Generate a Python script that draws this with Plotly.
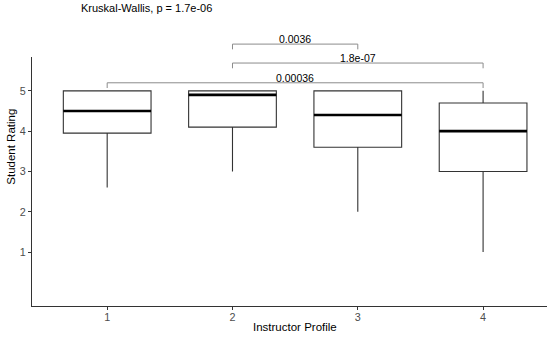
import plotly.graph_objects as go

# ---- data ----
groups = [1, 2, 3, 4]
q1 = [3.95, 4.1, 3.6, 3.0]
median = [4.5, 4.9, 4.4, 4.0]
q3 = [5.0, 5.0, 5.0, 4.7]
lower_whisker = [2.6, 3.0, 2.0, 1.0]
upper_whisker = [5.0, 5.0, 5.0, 5.0]
y_ticks = [1, 2, 3, 4, 5]

comparisons = [(1, 4, "0.00036", 5.2), (2, 4, "1.8e-07", 5.69), (2, 3, "0.0036", 6.16)]
test_label = "Kruskal-Wallis, p = 1.7e-06"

# ---- layout constants ----
Y_RANGE = [-0.34, 5.84]
X_RANGE = [0.4, 4.51]
BOX_W = 0.7
FONT = "Liberation Sans, Arial, sans-serif"
DARK = "#333333"


def ydom(v):
    return (v - Y_RANGE[0]) / (Y_RANGE[1] - Y_RANGE[0])


fig = go.Figure()
for g, a, m, b, lo, hi in zip(groups, q1, median, q3, lower_whisker, upper_whisker):
    fig.add_trace(go.Box(
        x=[g], q1=[a], median=[m], q3=[b], lowerfence=[lo], upperfence=[hi],
        width=BOX_W, whiskerwidth=0, boxpoints=False,
        fillcolor="white", line=dict(color=DARK, width=1.1),
        showlegend=False, hoverinfo="skip",
    ))
    fig.add_trace(go.Scatter(
        x=[g - BOX_W / 2, g + BOX_W / 2], y=[m, m], mode="lines",
        line=dict(color="black", width=2.6), showlegend=False, hoverinfo="skip",
    ))

tick_h = 0.13
for a, b, lab, h in comparisons:
    for x0, x1, y0, y1 in [(a, a, h - tick_h, h), (a, b, h, h), (b, b, h, h - tick_h)]:
        fig.add_shape(type="line", xref="x", yref="paper",
                      x0=x0, x1=x1, y0=ydom(y0), y1=ydom(y1),
                      line=dict(color="#8c8c8c", width=1))
    fig.add_annotation(x=(a + b) / 2, y=ydom(h), xref="x", yref="paper",
                       text=lab, showarrow=False, yanchor="bottom", yshift=-3,
                       font=dict(family=FONT, size=10.5, color="black"))

fig.add_annotation(x=1.31, y=ydom(7.06), xref="x", yref="paper", text=test_label,
                   showarrow=False, yanchor="middle", xanchor="center",
                   font=dict(family=FONT, size=11, color="black"))
fig.add_annotation(x=2.5, y=ydom(Y_RANGE[0]) - 0.085, xref="x", yref="paper",
                   text="Instructor Profile", showarrow=False, yanchor="middle",
                   font=dict(family=FONT, size=11.5, color="black"))
fig.add_annotation(x=-0.041, y=ydom(3.61), xref="paper", yref="paper",
                   text="Student Rating", showarrow=False, textangle=-90,
                   xanchor="center", yanchor="middle",
                   font=dict(family=FONT, size=11.5, color="black"))

axis_common = dict(showgrid=False, zeroline=False, showline=True, linecolor=DARK,
                   linewidth=1, ticks="outside", ticklen=3, tickcolor=DARK,
                   tickfont=dict(family=FONT, size=10.8, color="#4d4d4d"))
fig.update_xaxes(range=X_RANGE, tickmode="array", tickvals=groups,
                 ticktext=[str(g) for g in groups], ticklabelstandoff=-2, **axis_common)
fig.update_yaxes(range=Y_RANGE, tickmode="array", tickvals=y_ticks,
                 ticktext=[str(t) for t in y_ticks], **axis_common)

fig.update_layout(width=550, height=339, plot_bgcolor="white", paper_bgcolor="white",
                  margin=dict(l=32, r=3, t=57, b=33), showlegend=False,
                  boxmode="overlay")
fig.write_html("out.html", config={"displayModeBar": False},
               post_script="document.body.style.margin='0';")
